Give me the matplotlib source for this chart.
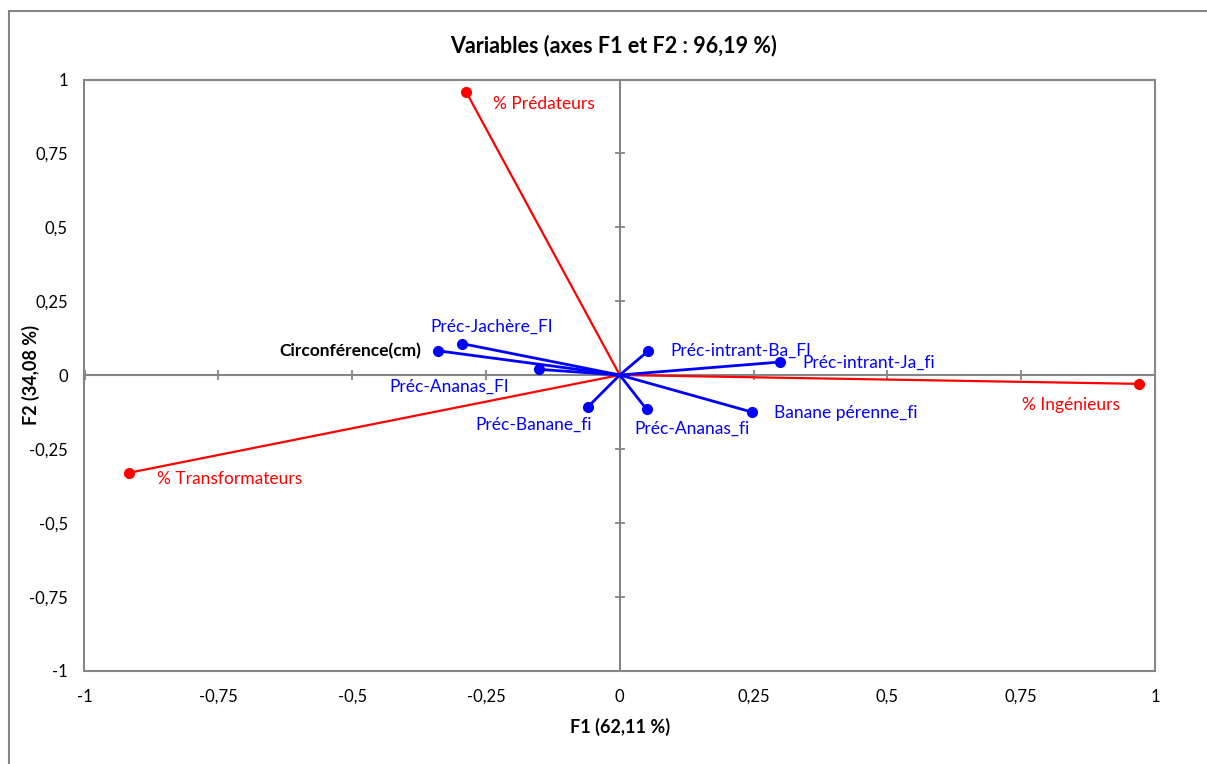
import matplotlib
matplotlib.use("Agg")
import matplotlib.pyplot as plt
from matplotlib.patches import Rectangle

plt.rcParams['font.family'] = ['Lato', 'DejaVu Sans']

# ---- data ----
red_names = ['% Prédateurs', '% Ingénieurs', '% Transformateurs']
red_x = [-0.287, 0.971, -0.917]
red_y = [0.958, -0.030, -0.331]

blue_names = ['Circonférence(cm)', 'Préc-Jachère_FI', 'Préc-Ananas_FI', 'Préc-Banane_fi',
              'Préc-Ananas_fi', 'Banane pérenne_fi', 'Préc-intrant-Ba_FI', 'Préc-intrant-Ja_fi']
blue_x = [-0.340, -0.294, -0.150, -0.059, 0.050, 0.248, 0.053, 0.300]
blue_y = [0.082, 0.106, 0.019, -0.107, -0.116, -0.126, 0.081, 0.044]

ticks = [-1, -0.75, -0.5, -0.25, 0, 0.25, 0.5, 0.75, 1]
tick_labels = ['-1', '-0,75', '-0,5', '-0,25', '0', '0,25', '0,5', '0,75', '1']

title = 'Variables (axes F1 et F2 : 96,19 %)'
xlabel = 'F1 (62,11 %)'
ylabel = 'F2 (34,08 %)'

# label placement (pixel offsets, alignment)
red_off = [((27, -12), 'left'), ((-68, -21), 'center'), ((28, -6), 'left')]
blue_off = [((-17, 0), 'right'), ((29, 17), 'center'), ((-90, -17), 'center'),
            ((-55, -18), 'center'), ((45, -20), 'center'), ((22, -1), 'left'),
            ((22, 0), 'left'), ((22, -1), 'left')]

GRAY = '#868686'
LBL = 12.5

fig = plt.figure(figsize=(12.07, 7.64), dpi=100)
ax = fig.add_axes([84.5 / 1207, 1 - 670.5 / 764, (1155 - 84.5) / 1207, (670.5 - 79.5) / 764])
ax.set_xlim(-1, 1)
ax.set_ylim(-1, 1)

for s in ax.spines.values():
    s.set_color(GRAY)
    s.set_linewidth(1.5)

ax.set_xticks(ticks)
ax.set_xticklabels(tick_labels)
ax.set_yticks(ticks)
ax.set_yticklabels(tick_labels)
ax.tick_params(axis='both', length=0, labelsize=12, colors='black')
ax.tick_params(axis='x', pad=13)
ax.tick_params(axis='y', pad=12)

# central axes with cross ticks
ax.axhline(0, color=GRAY, lw=1.5, zorder=1)
ax.axvline(0, color=GRAY, lw=1.5, zorder=1)
ax.plot(ticks, [0] * len(ticks), ls='none', marker='|', ms=7, mew=1.3, color=GRAY, zorder=1, clip_on=False)
ax.plot([0] * len(ticks), ticks, ls='none', marker='_', ms=7, mew=1.3, color=GRAY, zorder=1, clip_on=False)

for x, y in zip(red_x, red_y):
    ax.plot([0, x], [0, y], color='#ff0000', lw=1.6, zorder=2)
ax.plot(red_x, red_y, ls='none', marker='o', ms=7, color='#ff0000', zorder=4)

for x, y in zip(blue_x, blue_y):
    ax.plot([0, x], [0, y], color='#0000ff', lw=2.0, zorder=3)
ax.plot(blue_x, blue_y, ls='none', marker='o', ms=7, color='#0000ff', zorder=4)

for name, x, y, (off, ha) in zip(red_names, red_x, red_y, red_off):
    ax.annotate(name, (x, y), xytext=off, textcoords='offset pixels', ha=ha, va='center',
                color='#ff0000', fontsize=LBL)

for i, (name, x, y, (off, ha)) in enumerate(zip(blue_names, blue_x, blue_y, blue_off)):
    if i == 0:
        ax.annotate(name, (x, y), xytext=off, textcoords='offset pixels', ha=ha, va='center',
                    color='black', fontsize=LBL, fontweight='bold')
    else:
        ax.annotate(name, (x, y), xytext=off, textcoords='offset pixels', ha=ha, va='center',
                    color='#0000ff', fontsize=LBL)

fig.text(614 / 1207, 1 - 46 / 764, title, ha='center', va='center', fontsize=15.5, fontweight='bold')
fig.text(620 / 1207, 1 - 727 / 764, xlabel, ha='center', va='center', fontsize=13, fontweight='bold')
fig.text(31 / 1207, 1 - 375 / 764, ylabel, ha='center', va='center', fontsize=13, fontweight='bold',
         rotation=90)

# outer chart frame (top and left visible)
fig.add_artist(Rectangle((8.5 / 1207, -0.1), 1.2, (1 - 10.5 / 764) + 0.1, transform=fig.transFigure,
                         fill=False, edgecolor=GRAY, lw=1.5, clip_on=False))

fig.savefig('out.png', dpi=100)
